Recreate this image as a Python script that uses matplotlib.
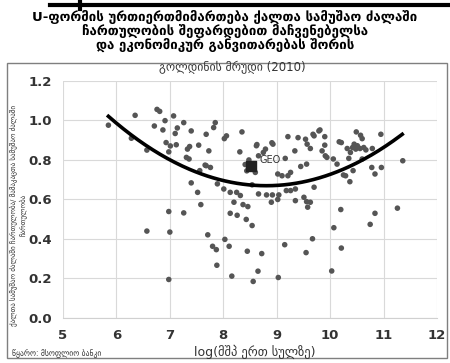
import numpy as np
import matplotlib.pyplot as plt
from matplotlib.patches import Rectangle
from matplotlib.lines import Line2D

# ქვეყნები: log(მშპ ერთ სულზე) და ქალთა/მამაკაცთა ჩართულობის შეფარდება
log_gdp = [
    5.85, 6.28, 6.35, 6.57, 6.57, 6.76, 6.81, 6.91, 7.07, 7.26, 6.71, 6.87, 7.14, 7.10,
    7.40, 7.68, 6.93, 7.01, 7.12, 6.98, 7.37, 7.33, 7.54, 7.73, 7.31, 7.36, 7.56, 7.68,
    7.40, 7.52, 7.58, 6.98, 7.26, 7.00, 6.98, 7.71, 7.80, 7.87, 7.88, 8.03, 8.11, 8.16,
    8.56, 8.45, 8.65, 8.72, 8.20, 8.13, 8.26, 8.37, 8.46, 8.43, 8.54, 9.15, 9.03, 9.55,
    9.67, 10.07, 10.20, 10.21, 10.03, 10.75, 10.84, 11.26, 9.58,
    7.85, 7.82, 8.06, 8.02, 8.35, 8.31, 8.62, 8.79, 8.75, 8.93, 8.66, 9.21, 9.40, 9.54,
    9.57, 9.63, 9.70, 9.34, 9.16, 9.56, 9.79, 7.66, 7.76, 8.41, 8.48, 8.60, 8.44, 9.02,
    9.10, 9.21, 9.26, 9.45, 8.54, 7.89, 8.01, 8.25, 8.32, 8.66, 8.81, 8.92, 9.04, 8.90,
    9.02, 9.18, 9.26, 9.35, 9.51, 9.56, 9.35, 8.91, 8.63, 8.13,
    9.81, 9.68, 9.90, 9.90, 9.85, 9.91, 9.94, 10.17, 10.21, 10.06, 10.13, 10.49, 10.57,
    10.60, 10.32, 10.42, 10.48, 10.51, 10.45, 10.38, 10.56, 10.63, 10.67, 10.79, 10.95,
    10.35, 10.60, 10.78, 10.84, 10.96, 11.36, 10.43, 10.25, 10.29, 10.37, 9.70, 9.63,
]
flfp_ratio = [
    0.976, 0.910, 1.026, 0.850, 0.440, 1.056, 1.046, 0.999, 1.023, 0.989, 0.972, 0.952, 0.962, 0.934,
    0.947, 0.930, 0.888, 0.871, 0.877, 0.841, 0.868, 0.855, 0.875, 0.846, 0.813, 0.805, 0.746, 0.771,
    0.684, 0.636, 0.574, 0.539, 0.532, 0.435, 0.195, 0.421, 0.363, 0.346, 0.267, 0.398, 0.363, 0.212,
    0.185, 0.338, 0.237, 0.326, 0.586, 0.530, 0.520, 0.574, 0.564, 0.499, 0.468, 0.371, 0.205, 0.331,
    0.401, 0.457, 0.549, 0.354, 0.238, 0.474, 0.530, 0.556, 0.561,
    0.989, 0.964, 0.922, 0.908, 0.942, 0.841, 0.872, 0.855, 0.838, 0.880, 0.821, 0.918, 0.913, 0.905,
    0.880, 0.858, 0.922, 0.846, 0.808, 0.779, 0.947, 0.774, 0.762, 0.777, 0.800, 0.737, 0.745, 0.729,
    0.720, 0.720, 0.737, 0.767, 0.674, 0.679, 0.653, 0.636, 0.620, 0.628, 0.623, 0.623, 0.623, 0.586,
    0.600, 0.645, 0.645, 0.653, 0.611, 0.589, 0.594, 0.887, 0.878, 0.636,
    0.952, 0.930, 0.918, 0.875, 0.846, 0.821, 0.813, 0.892, 0.888, 0.805, 0.779, 0.942, 0.925,
    0.908, 0.858, 0.863, 0.855, 0.872, 0.880, 0.838, 0.858, 0.863, 0.851, 0.858, 0.930,
    0.808, 0.805, 0.762, 0.729, 0.762, 0.796, 0.746, 0.724, 0.720, 0.690, 0.662, 0.586,
]

# საქართველო
geo_x, geo_y = 8.52, 0.768

# კვადრატული ტრენდის კოეფიციენტები (a*x^2 + b*x + c) და დიაპაზონი
trend_coef = [0.0402, -0.708, 3.787]
trend_range = [5.85, 11.35]

x_ticks = [5, 6, 7, 8, 9, 10, 11, 12]
y_ticks = [0.0, 0.2, 0.4, 0.6, 0.8, 1.0, 1.2]

title = ("U-ფორმის ურთიერთმიმართება ქალთა სამუშაო ძალაში\n"
         "ჩართულობის შეფარდებით მაჩვენებელსა\n"
         "და ეკონომიკურ განვითარებას შორის")
subtitle = "გოლდინის მრუდი (2010)"
y_label = ("ქალთა სამუშაო ძალაში ჩართულობა/ მამაკაცთა სამუშაო ძალაში\n"
           "ჩართულობა")
x_label = "log(მშპ ერთ სულზე)"
source = "წყარო: მსოფლიო ბანკი"

fig = plt.figure(figsize=(4.5, 3.63), dpi=100)
ax = fig.add_axes([0.14, 0.124, 0.831, 0.653])

# ჩარჩო და ზედა ხაზი
fig.add_artist(Rectangle((7 / 450, 1 - 358 / 363), 440 / 450, 295 / 363,
                         transform=fig.transFigure, fill=False, edgecolor='#7f7f7f', lw=1))
fig.add_artist(Line2D([50 / 450, 1.0], [1 - 5 / 363, 1 - 5 / 363],
                      transform=fig.transFigure, color='black', lw=3))
fig.add_artist(Line2D([80 / 450, 80 / 450], [1 - 1 / 363, 1 - 9 / 363],
                      transform=fig.transFigure, color='black', lw=3))

ax.scatter(log_gdp, flfp_ratio, s=16, color='#555555', edgecolors='none', zorder=3)
ax.scatter([geo_x], [geo_y], s=50, marker='s', color='#222222', zorder=4)
ax.text(geo_x + 0.16, geo_y + 0.03, "GEO", fontsize=7, color='#333333', va='center', zorder=5)

xs = np.linspace(trend_range[0], trend_range[1], 200)
ax.plot(xs, np.polyval(trend_coef, xs), color='black', lw=2.6, zorder=5)

ax.set_xlim(5, 12)
ax.set_ylim(0, 1.2)
ax.set_xticks(x_ticks)
ax.set_yticks(y_ticks)
ax.set_yticklabels([f"{v:.1f}" for v in y_ticks])
ax.tick_params(length=0, labelsize=9.5, labelcolor='#333333', pad=8)
for lab in ax.get_xticklabels() + ax.get_yticklabels():
    lab.set_fontweight('bold')
ax.grid(True, color='#d9d9d9', lw=0.8)
ax.set_axisbelow(True)
for s in ['top', 'right', 'left']:
    ax.spines[s].set_visible(False)
ax.spines['bottom'].set_color('#d0d0d0')

fig.text(0.5, 1 - 31 / 363, title, ha='center', va='center', fontsize=9.5,
         fontweight='bold', linespacing=1.0)
fig.text(232 / 450, 1 - 68 / 363, subtitle, ha='center', va='center', fontsize=8.5, color='#333333')
fig.text(18 / 450, 1 - 215 / 363, y_label, ha='center', va='center', rotation=90,
         fontsize=5, color='#333333', multialignment='center')
fig.text(255 / 450, 1 - 352 / 363, x_label, ha='center', va='center', fontsize=9, color='#333333')
fig.text(12 / 450, 1 - 354 / 363, source, ha='left', va='center', fontsize=5.5, color='#333333')

fig.savefig('out.png', dpi=100)
